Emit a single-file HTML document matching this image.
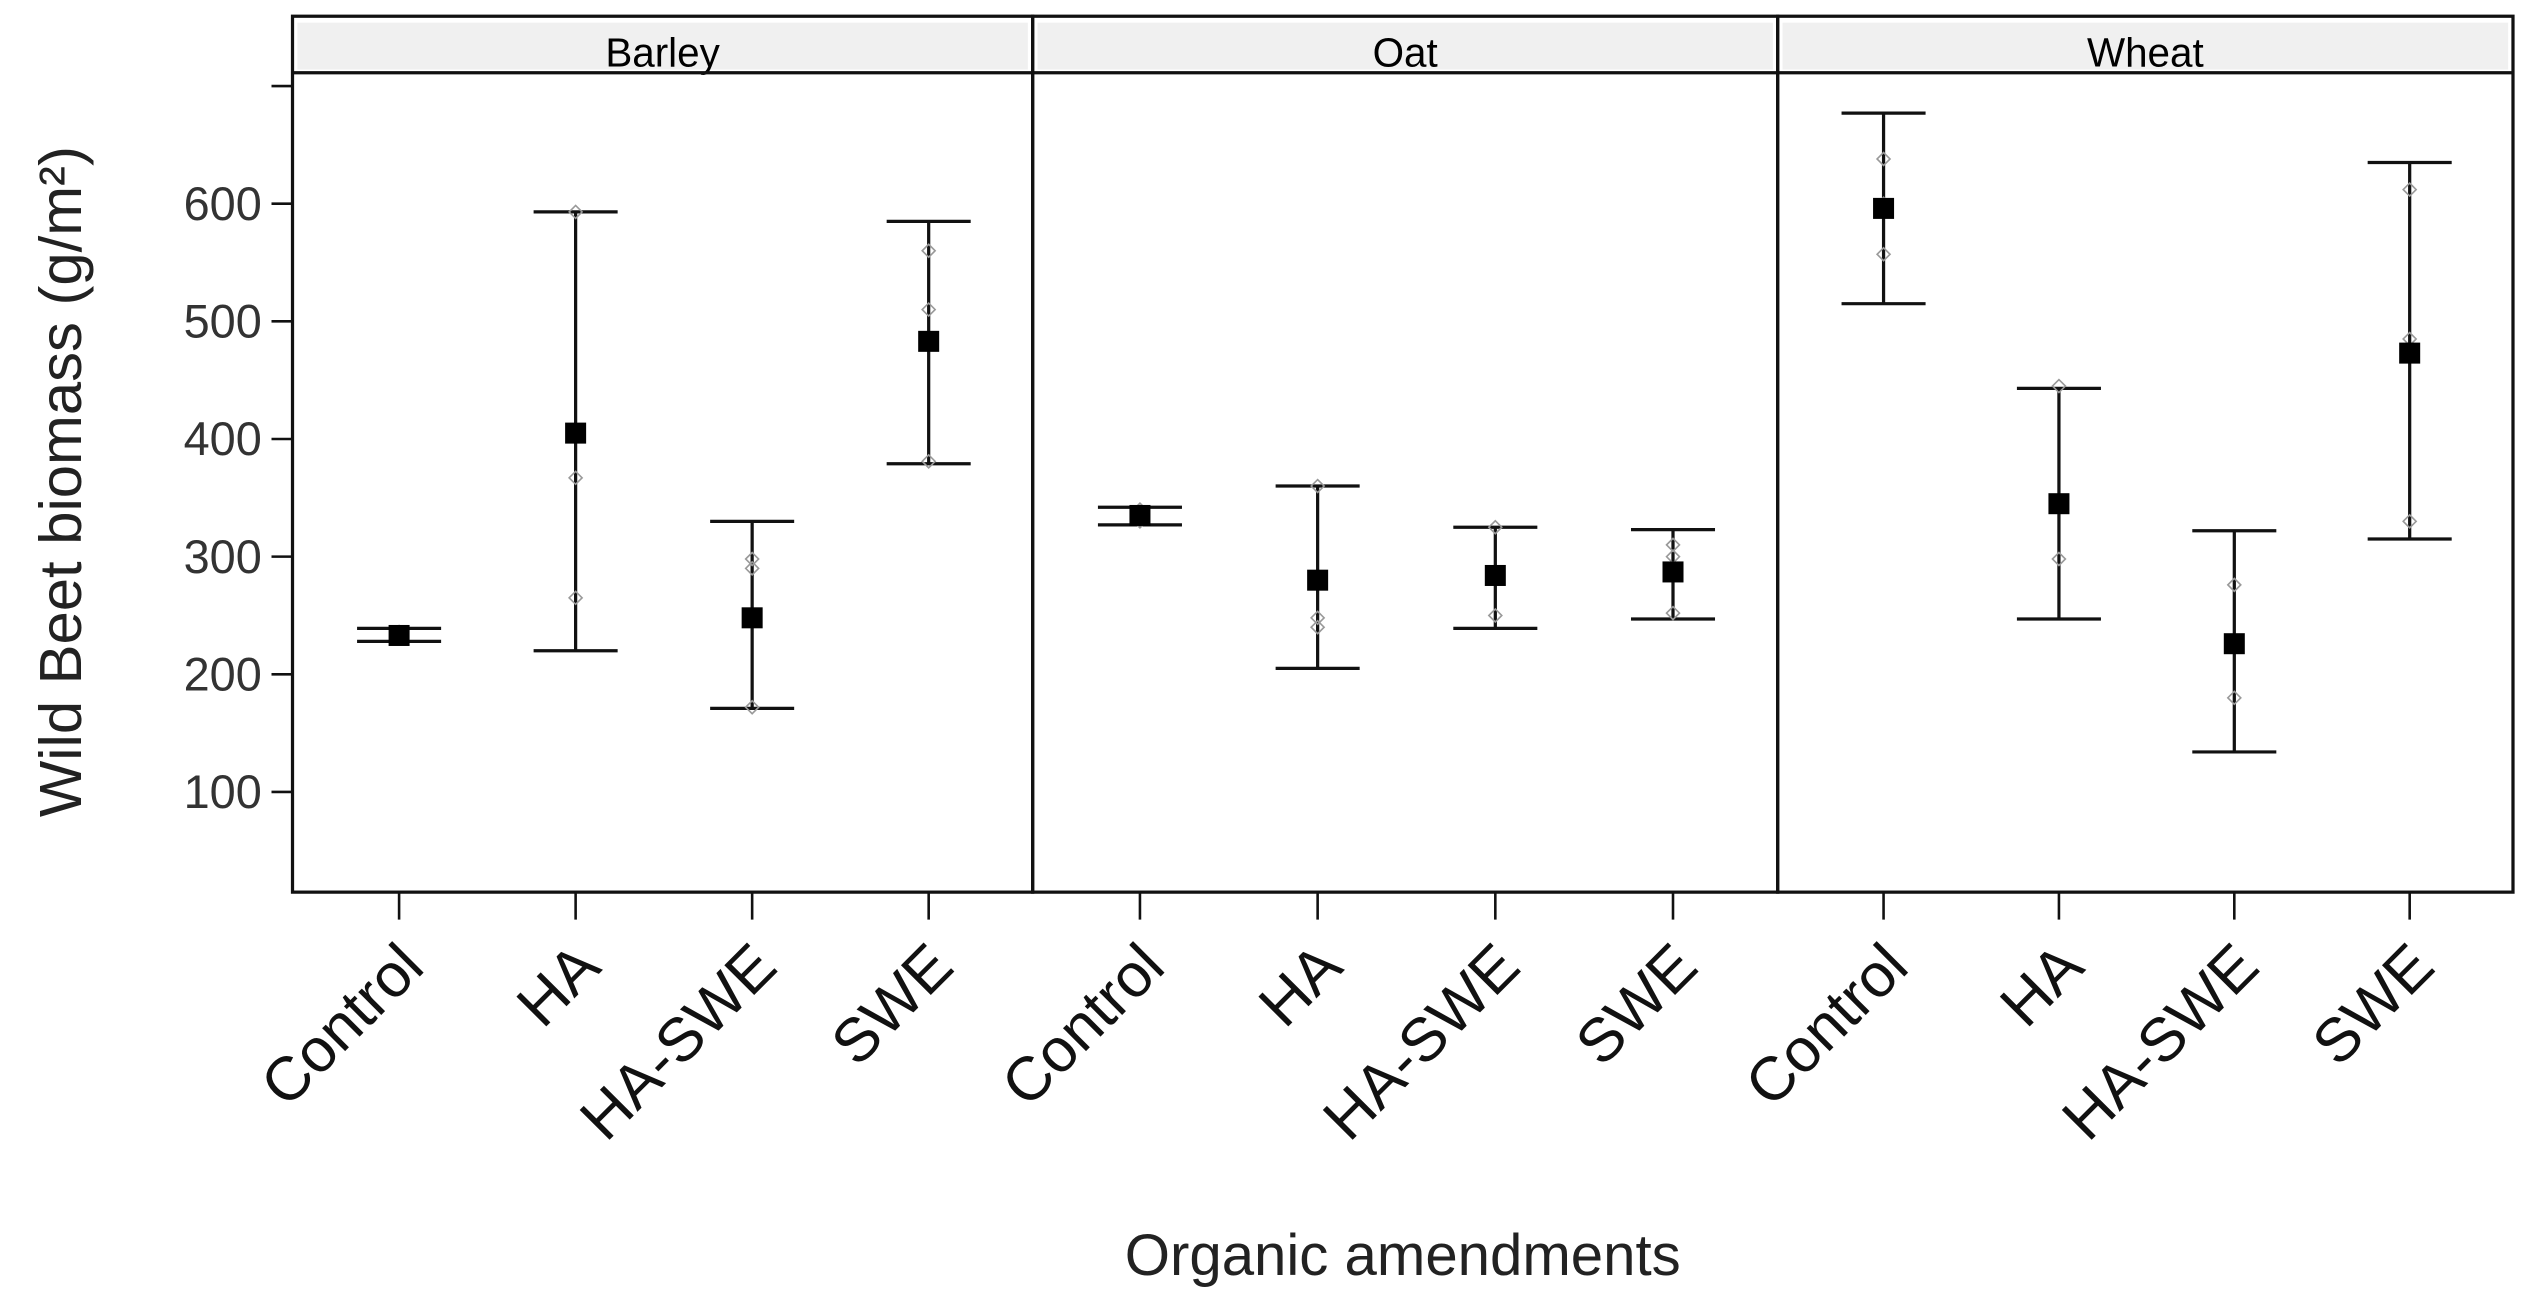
<!DOCTYPE html>
<html><head><meta charset="utf-8"><style>
html,body{margin:0;padding:0;background:#fff;}
svg{display:block;font-family:"Liberation Sans",Arial,sans-serif;}
</style></head><body>
<svg id="chart" width="2534" height="1314" viewBox="0 0 1568 813" xmlns="http://www.w3.org/2000/svg">
<g id="panels"></g>
<g id="marks"></g>
<text x="0" y="0" transform="translate(50,298) rotate(-90)" text-anchor="middle" font-size="37" fill="#222">Wild Beet biomass (g/m²)</text>
<text x="868" y="789" text-anchor="middle" font-size="36" fill="#222">Organic amendments</text>
</svg>
<script>
const panels = ["Barley","Oat","Wheat"];
const categories = ["Control","HA","HA-SWE","SWE"];
const means = [[233,405,248,483],[335,280,284,287],[596,345,226,473]];
const lowers = [[228,220,171,379],[327,205,239,247],[515,247,134,315]];
const uppers = [[239,593,330,585],[342,360,325,323],[677,443,322,635]];
const points = [
 [[236,231,233],[593,367,265],[298,290,172],[560,510,381]],
 [[340,335,330],[360,248,240],[325,250],[310,300,252]],
 [[638,557,600],[445,298],[276,180],[612,485,330]]
];
const yTicks = [100,200,300,400,500,600,700];
const yTickLabels = ["100","200","300","400","500","600",""];

const NS="http://www.w3.org/2000/svg";
const panelEdges=[181,639,1100,1555];
const topY=10, stripBottom=45, bottomY=552;
function y(v){return 126+(600-v)*0.728;}
function x(p,c){const l=panelEdges[p],r=panelEdges[p+1];const w=r-l;return l+w*(0.144+c*0.2385);}
function mk(t,a,parent){const e=document.createElementNS(NS,t);for(const k in a)e.setAttribute(k,a[k]);parent.appendChild(e);return e;}
const P=document.getElementById('panels'), M=document.getElementById('marks');

for(let p=0;p<3;p++){
  const l=panelEdges[p], r=panelEdges[p+1];
  const g=mk('g',{},P);
  
  
  const s=mk('rect',{x:l+3,y:topY+4,width:r-l-6,height:stripBottom-topY-6,fill:'#f0f0f0'},g);
  
  
  const t=mk('text',{x:(l+r)/2,y:41,'text-anchor':'middle','font-size':25,fill:'#000'},g);
  t.textContent=panels[p];
  
  
  mk('rect',{x:l,y:topY,width:r-l,height:bottomY-topY,fill:'none',stroke:'#111','stroke-width':2},g);
  mk('line',{x1:l,x2:r,y1:stripBottom,y2:stripBottom,stroke:'#111','stroke-width':2},g);
  for(let c=0;c<4;c++){
    const cx=x(p,c);
    mk('line',{x1:cx,x2:cx,y1:bottomY,y2:bottomY+17,stroke:'#111','stroke-width':1.6},g);
    const lt=mk('text',{x:0,y:0,transform:`translate(${cx+17},${bottomY+48}) rotate(-45)`,'text-anchor':'end','font-size':38,fill:'#111'},g);
    lt.textContent=categories[c];
    
    
  }
}
for(let i=0;i<yTicks.length;i++){
  const yy=y(yTicks[i]);
  mk('line',{x1:168,x2:181,y1:yy,y2:yy,stroke:'#111','stroke-width':1.6},P);
  const t=mk('text',{x:162,y:yy+10,'text-anchor':'end','font-size':29,fill:'#333'},P);
  t.textContent=yTickLabels[i];
  
  
}
for(let p=0;p<3;p++){
  for(let c=0;c<4;c++){
    const cx=x(p,c);
    const g=mk('g',{},M);
    
    
    const lo=y(lowers[p][c]), hi=y(uppers[p][c]);
    mk('line',{x1:cx,x2:cx,y1:hi,y2:lo,stroke:'#111','stroke-width':2},g);
    mk('line',{x1:cx-26,x2:cx+26,y1:hi,y2:hi,stroke:'#111','stroke-width':2},g);
    mk('line',{x1:cx-26,x2:cx+26,y1:lo,y2:lo,stroke:'#111','stroke-width':2},g);
    for(const v of points[p][c]){
      const py=y(v);
      const d=mk('path',{d:`M${cx-4} ${py} L${cx} ${py-4} L${cx+4} ${py} L${cx} ${py+4} Z`,fill:'none',stroke:'#999','stroke-width':1},g);
      
      
    }
    const m=mk('rect',{x:cx-6.5,y:y(means[p][c])-6.5,width:13,height:13,fill:'#000'},g);
    
    
  }
}
</script>
</body></html>
